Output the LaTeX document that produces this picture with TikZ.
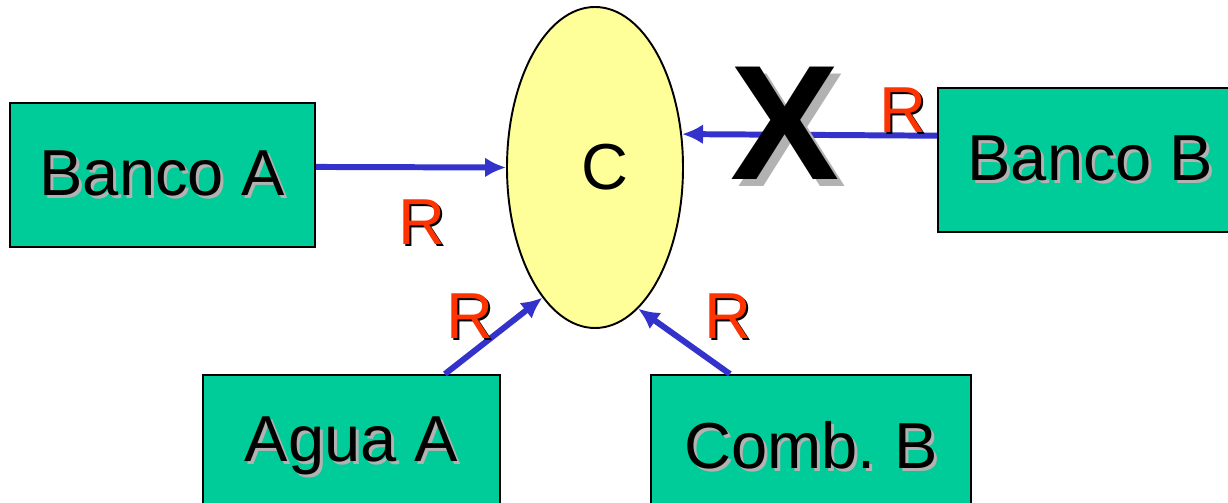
\documentclass[tikz,border=0pt]{standalone}
\usepackage{fontspec}
\setmainfont{Liberation Sans}
\usepackage{tikz}
\usetikzlibrary{arrows.meta,shapes.geometric}
\frenchspacing

\definecolor{boxgreen}{HTML}{00CC99}
\definecolor{ovalyellow}{HTML}{FFFF99}
\definecolor{arrowblue}{HTML}{3333CC}
\definecolor{labelred}{HTML}{FF3300}
\definecolor{shadowgray}{HTML}{B2B2B2}

% text with a drop shadow: colour, offset, text
\newcommand{\dropshadow}[3]{\rlap{\hspace{#2}\raisebox{-#2}{\textcolor{#1}{#3}}}#3}

\begin{document}
\begin{tikzpicture}[
	unit/.style={shape=rectangle, draw=black, line width=1.1pt, fill=boxgreen,
		minimum height=2.88cm, inner sep=0pt, font=\fontsize{37}{44}\selectfont},
	rlabel/.style={inner sep=0pt, text=labelred, font=\fontsize{37}{44}\selectfont},
	flow/.style={draw=arrowblue, line width=3.4pt, -{Latex[length=0.42cm,width=0.4cm]}}
	]
	\useasboundingbox (0,0) rectangle (24.56,10.04);

	\node (C) at (11.9,6.69) [shape=ellipse, draw, line width=1.1pt, fill=ovalyellow,
		minimum width=3.52cm, minimum height=6.42cm, inner sep=0pt,
		font=\fontsize{37}{44}\selectfont] {\hspace{0.4cm}C};

	\node (bancoA) at (3.25,6.54) [unit, minimum width=6.1cm] {\dropshadow{shadowgray}{0.06cm}{Banco A}};
	\node (bancoB) at (21.81,6.84) [unit, minimum width=6.1cm] {\dropshadow{shadowgray}{0.06cm}{Banco B}};
	\node (aguaA) at (7.03,1.10) [unit, minimum width=5.94cm] {\dropshadow{shadowgray}{0.06cm}{Agua A}};
	\node (combB) at (16.22,1.10) [unit, minimum width=6.4cm] {\dropshadow{shadowgray}{0.06cm}{Comb. B}};

	\path 	(bancoA.3) 	edge [flow] 	(C.180)
			(bancoB.171)	edge [flow]	(C.21)
			(aguaA.38)	edge [flow]	(C.248)
			(combB.138)	edge [flow]	(C.287);

	\node (rA) at (8.44,5.58) [rlabel] {\dropshadow{black}{0.04cm}{R}};
	\node (rB) at (18.06,7.82) [rlabel] {\dropshadow{black}{0.04cm}{R}};
	\node (rAgua) at (9.40,3.70) [rlabel] {\dropshadow{black}{0.04cm}{R}};
	\node (rComb) at (14.56,3.70) [rlabel] {\dropshadow{black}{0.04cm}{R}};

	\node (cross) at (15.70,7.50) [inner sep=0pt, font=\fontsize{93}{100}\selectfont\bfseries]
		{\dropshadow{shadowgray}{0.14cm}{X}};
\end{tikzpicture}
\end{document}
